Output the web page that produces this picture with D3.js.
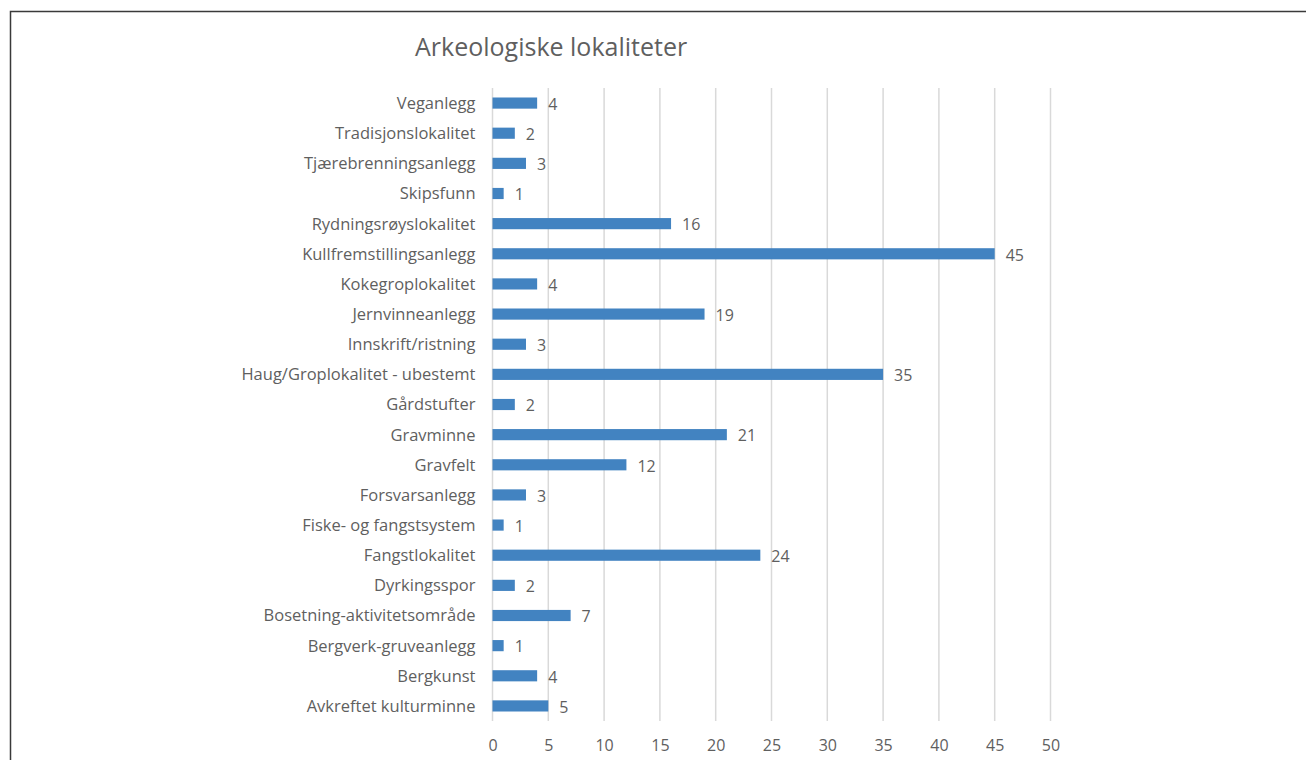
<!DOCTYPE html>
<html><head><meta charset="utf-8">
<script src="https://cdn.jsdelivr.net/npm/d3@7"></script>
<style>body{margin:0;background:#fff}svg{display:block}</style>
</head><body>
<script>
const categories = ["Veganlegg","Tradisjonslokalitet","Tjærebrenningsanlegg","Skipsfunn","Rydningsrøyslokalitet","Kullfremstillingsanlegg","Kokegroplokalitet","Jernvinneanlegg","Innskrift/ristning","Haug/Groplokalitet - ubestemt","Gårdstufter","Gravminne","Gravfelt","Forsvarsanlegg","Fiske- og fangstsystem","Fangstlokalitet","Dyrkingsspor","Bosetning-aktivitetsområde","Bergverk-gruveanlegg","Bergkunst","Avkreftet kulturminne"];
const values = [4,2,3,1,16,45,4,19,3,35,2,21,12,3,1,24,2,7,1,4,5];
const ticks = [0,5,10,15,20,25,30,35,40,45,50];
const title = "Arkeologiske lokaliteter";

const W = 1306, H = 760;
const svg = d3.select("body").append("svg").attr("width", W).attr("height", H);
const font = "'Open Sans', sans-serif";
const grey = "#5f5f5f";

svg.append("rect").attr("x",10.5).attr("y",11.5).attr("width",1300).attr("height",800)
  .attr("fill","none").attr("stroke","#3a3a3a").attr("stroke-width",1.5);

const x = d3.scaleLinear().domain([0,50]).range([492.5,1050.5]);
const y = d3.scaleBand().domain(categories).range([88,721]).paddingInner(0.63).paddingOuter(0.315);

svg.append("g").selectAll("line").data(ticks).join("line")
  .attr("x1",d=>x(d)).attr("x2",d=>x(d)).attr("y1",88).attr("y2",721)
  .attr("stroke","#d9d9d9").attr("stroke-width",1.5);

svg.append("g").selectAll("rect").data(values).join("rect")
  .attr("x",x(0)).attr("y",(d,i)=>y(categories[i]))
  .attr("width",d=>x(d)-x(0)).attr("height",y.bandwidth())
  .attr("fill","#4283c1");

svg.append("g").selectAll("text").data(values).join("text")
  .attr("x",d=>x(d)+11).attr("y",(d,i)=>y(categories[i])+y.bandwidth()/2)
  .attr("dy","0.42em").attr("fill",grey).attr("font-family",font).attr("font-size",16)
  .text(d=>d);

const yAxis = d3.axisLeft(y).tickSize(0).tickPadding(0);
const gy = svg.append("g").attr("transform",`translate(${x(0)-17},0)`).call(yAxis);
gy.select(".domain").remove();
gy.selectAll("text").attr("fill",grey).attr("font-family",font).attr("font-size",16.5).attr("dy","0.36em");

const xAxis = d3.axisBottom(x).tickValues(ticks).tickSize(0).tickPadding(0);
const gx = svg.append("g").attr("transform","translate(0,745)").call(xAxis);
gx.select(".domain").remove();
gx.selectAll("text").attr("fill",grey).attr("font-family",font).attr("font-size",16).attr("dy","0.36em");

svg.append("text").attr("x",415).attr("y",56).attr("fill",grey)
  .attr("font-family",font).attr("font-size",25).text(title);
</script>
</body></html>
